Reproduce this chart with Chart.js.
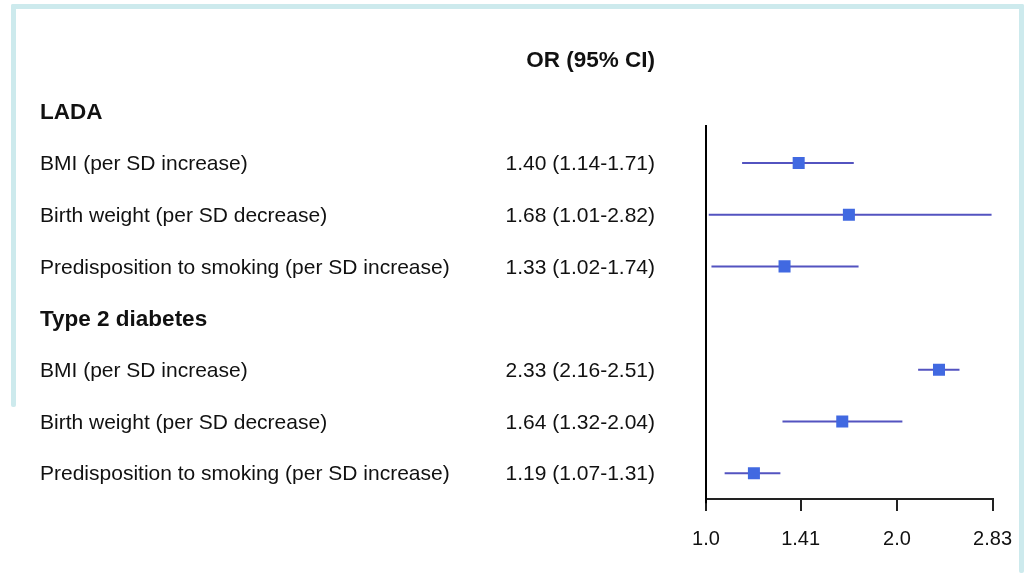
<!DOCTYPE html>
<html>
<head>
<meta charset="utf-8">
<script src="https://cdn.jsdelivr.net/npm/chart.js@4/dist/chart.umd.min.js"></script>
<style>
  html, body { margin: 0; padding: 0; background: #ffffff; }
  #wrap { position: relative; width: 1028px; height: 573px; overflow: hidden; }
  .band { position: absolute; background: #cdeaed; border-radius: 2px; }
  canvas { position: absolute; left: 0; top: 0; }
</style>
</head>
<body>
<div id="wrap">
  <div class="band" style="left:11px; top:4px; width:1013px; height:5px;"></div>
  <div class="band" style="left:11px; top:4px; width:5px; height:403px;"></div>
  <div class="band" style="left:1019px; top:4px; width:5px; height:569px;"></div>
  <canvas id="c" width="1028" height="573"></canvas>
</div>
<script>
// ---- data ----
const groups = ['LADA', 'Type 2 diabetes'];
const exposures = ['BMI (per SD increase)', 'Birth weight (per SD decrease)', 'Predisposition to smoking (per SD increase)'];
const orLADA   = [1.40, 1.68, 1.33];
const lowLADA  = [1.14, 1.01, 1.02];
const highLADA = [1.71, 2.82, 1.74];
const orT2D    = [2.33, 1.64, 1.19];
const lowT2D   = [2.16, 1.32, 1.07];
const highT2D  = [2.51, 2.04, 1.31];
const xTickValues = [1.0, 1.41, 2.0, 2.83];
const xTickLabels = ['1.0', '1.41', '2.0', '2.83'];
const columnHeader = 'OR (95% CI)';

// ---- build rows ----
const rows = [];
let yi = 1;
[[orLADA, lowLADA, highLADA], [orT2D, lowT2D, highT2D]].forEach((g, gi) => {
  rows.push({ type: 'header', text: groups[gi], y: yi++ });
  exposures.forEach((e, i) => {
    rows.push({ type: 'item', text: e, or: g[0][i], lo: g[1][i], hi: g[2][i], y: yi++ });
  });
});
const items = rows.filter(r => r.type === 'item');

const FONT = "'Liberation Sans', Arial, Helvetica, sans-serif";
const lineColor = '#5353c0';
const markColor = '#4169e1';

const datasets = [];
// reference line at OR = 1
datasets.push({
  type: 'line', data: [{ x: 1, y: 1.265 }, { x: 1, y: 8.58 }],
  borderColor: '#000000', borderWidth: 2, pointRadius: 0, clip: false, order: 3
});
// CI lines
items.forEach(r => {
  datasets.push({
    type: 'line', data: [{ x: r.lo, y: r.y }, { x: r.hi, y: r.y }],
    borderColor: lineColor, borderWidth: 2, pointRadius: 0, order: 2
  });
});
// point estimates
datasets.push({
  type: 'scatter', data: items.map(r => ({ x: r.or, y: r.y })),
  pointStyle: 'rect', pointRadius: 8.5, pointHoverRadius: 8.5,
  backgroundColor: markColor, borderColor: markColor, borderWidth: 0, order: 1
});

const TEXT_DY = 1.5;
const textPlugin = {
  id: 'forestText',
  afterDraw(chart) {
    const ctx = chart.ctx;
    const ys = chart.scales.y;
    ctx.save();
    ctx.fillStyle = '#111111';
    ctx.textBaseline = 'middle';
    ctx.font = 'bold 22.5px ' + FONT;
    ctx.textAlign = 'right';
    ctx.fillText(columnHeader, 655, ys.getPixelForValue(0) + TEXT_DY);
    rows.forEach(r => {
      const py = ys.getPixelForValue(r.y) + TEXT_DY;
      if (r.type === 'header') {
        ctx.font = 'bold 22.5px ' + FONT;
        ctx.textAlign = 'left';
        ctx.fillText(r.text, 40, py);
      } else {
        ctx.font = '21px ' + FONT;
        ctx.textAlign = 'left';
        ctx.fillText(r.text, 40, py);
        ctx.textAlign = 'right';
        ctx.fillText(`${r.or.toFixed(2)} (${r.lo.toFixed(2)}-${r.hi.toFixed(2)})`, 655, py);
      }
    });
    ctx.restore();
  }
};

new Chart(document.getElementById('c'), {
  data: { datasets },
  options: {
    responsive: false,
    animation: false,
    events: [],
    layout: { padding: { left: 706, right: 32, top: 59.6, bottom: 0 } },
    plugins: { legend: { display: false }, tooltip: { enabled: false } },
    scales: {
      x: {
        type: 'logarithmic',
        min: 1, max: 2.83,
        afterBuildTicks: s => { s.ticks = xTickValues.map(v => ({ value: v })); },
        afterFit: s => { s.height = 74; },
        ticks: {
          autoSkip: false, maxRotation: 0, padding: 16,
          color: '#111111', font: { family: FONT, size: 20 },
          callback: (v, i) => xTickLabels[i]
        },
        grid: { drawOnChartArea: false, drawTicks: true, tickLength: 12, color: '#222222', lineWidth: 2 },
        border: { display: true, color: '#222222', width: 2 }
      },
      y: {
        type: 'linear', display: false, reverse: true, min: 0, max: 8.5
      }
    }
  },
  plugins: [textPlugin]
});
</script>
</body>
</html>
